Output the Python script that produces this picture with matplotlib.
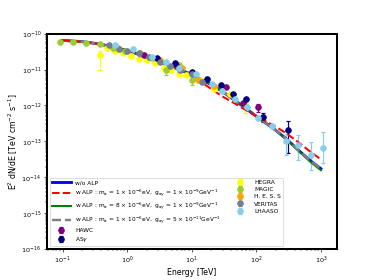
import numpy as np
import matplotlib.pyplot as plt

# model curves (energy in TeV, E^2 dN/dE in TeV cm^-2 s^-1)
e_model = [0.1, 0.2, 0.3, 0.5, 1, 2, 3, 5, 10, 15, 20, 30, 50, 100, 200, 300, 500, 700, 1000]
f_noalp = [6.46e-11, 5.96e-11, 5.43e-11, 4.62e-11, 3.39e-11, 2.24e-11, 1.70e-11, 1.17e-11,
           7.41e-12, 5.0e-12, 3.80e-12, 2.45e-12, 1.26e-12, 5.01e-13, 2.04e-13, 1.12e-13,
           4.79e-14, 2.82e-14, 1.74e-14]
f_alp1 = [6.46e-11, 5.96e-11, 5.43e-11, 4.62e-11, 3.39e-11, 2.24e-11, 1.70e-11, 1.17e-11,
          6.92e-12, 4.17e-12, 2.88e-12, 1.78e-12, 1.05e-12, 5.01e-13, 2.57e-13, 1.62e-13,
          8.13e-14, 5.01e-14, 3.16e-14]
f_alp2 = [6.46e-11, 5.96e-11, 5.43e-11, 4.62e-11, 3.39e-11, 2.24e-11, 1.70e-11, 1.17e-11,
          7.41e-12, 5.0e-12, 3.80e-12, 2.45e-12, 1.26e-12, 5.01e-13, 2.02e-13, 1.09e-13,
          4.57e-14, 2.63e-14, 1.58e-14]
f_alp3 = [6.46e-11, 5.96e-11, 5.43e-11, 4.62e-11, 3.39e-11, 2.24e-11, 1.70e-11, 1.17e-11,
          7.41e-12, 5.0e-12, 3.80e-12, 2.45e-12, 1.26e-12, 5.01e-13, 2.04e-13, 1.12e-13,
          4.79e-14, 2.82e-14, 1.74e-14]

# measurements
hegra_e = [0.378, 0.491, 0.659, 0.867, 1.153, 1.51, 2.04, 2.67, 3.68, 4.84, 6.28, 8.26, 13.6, 21.8, 38.5, 67.3]
hegra_f = [2.47e-11, 3.87e-11, 3.32e-11, 2.81e-11, 2.36e-11, 1.95e-11, 1.79e-11, 1.54e-11,
           1.11e-11, 9.4e-12, 7.6e-12, 6.85e-12, 5.07e-12, 2.79e-12, 2.03e-12, 1.09e-12]
hegra_lo = [1.47e-11, 1e-12, 1e-12, 1e-12, 1e-12, 8e-13, 8e-13, 6e-13, 5e-13, 4e-13, 3e-13, 3e-13,
            2e-13, 1.5e-13, 1.2e-13, 4.7e-13]
hegra_hi = [0.9e-11, 1e-12, 1e-12, 1e-12, 1e-12, 8e-13, 8e-13, 6e-13, 5e-13, 4e-13, 3e-13, 3e-13,
            2e-13, 1.5e-13, 1.2e-13, 1.5e-13]

magic_e = [0.091, 0.146, 0.235, 0.378, 0.608, 0.94, 1.61, 2.46, 4.0, 6.43, 10.2]
magic_f = [5.69e-11, 5.69e-11, 5.43e-11, 5.1e-11, 3.87e-11, 3.36e-11, 2.68e-11, 2.08e-11,
           9.6e-12, 1.33e-11, 5.2e-12]
magic_err = [1.5e-12, 1.5e-12, 1.2e-12, 1.2e-12, 1e-12, 1e-12, 8e-13, 8e-13, 2.6e-12, 1.5e-12, 1.6e-12]

hess_e = [0.735, 1.61, 3.27, 7.16, 12.6, 22.3]
hess_f = [4.07e-11, 2.96e-11, 1.89e-11, 1.09e-11, 5.07e-12, 3.45e-12]
hess_err = [1.5e-12, 1e-12, 8e-13, 6e-13, 4e-13, 3e-13]

veritas_e = [0.527, 0.741, 1.01, 1.51, 2.21, 3.19, 4.67, 6.67, 10.1, 14.4]
veritas_f = [4.94e-11, 3.70e-11, 3.36e-11, 2.81e-11, 2.22e-11, 1.61e-11, 1.29e-11, 9.9e-12,
             7.3e-12, 4.54e-12]
veritas_err = [1.5e-12, 1.2e-12, 1e-12, 8e-13, 7e-13, 6e-13, 5e-13, 4e-13, 3e-13, 2.5e-13]

lhaaso_e = [0.659, 1.24, 2.43, 4.01, 6.28, 11.6, 20.6, 29.4, 47.2, 71.6, 108, 178, 287, 440, 698, 1094]
lhaaso_f = [4.79e-11, 3.63e-11, 2.26e-11, 1.64e-11, 1.07e-11, 7.45e-12, 3.92e-12, 2.55e-12,
            1.50e-12, 9.15e-13, 4.52e-13, 2.65e-13, 1.03e-13, 8.1e-14, 4.26e-14, 6.76e-14]
lhaaso_lo = [1e-12, 8e-13, 6e-13, 5e-13, 3e-13, 2e-13, 1e-13, 8e-14, 5e-14, 3e-14, 2e-14, 2e-14,
             6.2e-14, 5.1e-14, 2.7e-14, 4.2e-14]
lhaaso_hi = [1e-12, 8e-13, 6e-13, 5e-13, 3e-13, 2e-13, 1e-13, 8e-14, 5e-14, 3e-14, 2e-14, 2e-14,
             5.6e-14, 6.8e-14, 5.4e-14, 1.16e-13]

hawc_e = [1.85, 5.78, 34.3, 62.1, 108]
hawc_f = [2.60e-11, 1.37e-11, 3.30e-12, 1.18e-12, 8.79e-13]
hawc_err = [8e-13, 5e-13, 1.5e-13, 8e-14, 2.1e-13]

asg_e = [2.91, 5.58, 10.1, 17.4, 28.2, 43.5, 69.0, 128, 308]
asg_f = [2.04e-11, 1.51e-11, 8.47e-12, 5.58e-12, 3.80e-12, 2.02e-12, 1.50e-12, 4.88e-13, 2.14e-13]
asg_err = [6e-13, 5e-13, 3e-13, 2e-13, 1.5e-13, 1e-13, 1.5e-13, 1.4e-13, 1.65e-13]

x_ticks = [0.1, 1, 10, 100, 1000]
y_ticks = [1e-16, 1e-15, 1e-14, 1e-13, 1e-12, 1e-11, 1e-10]

dpi = 374 / 6.4
fig, ax = plt.subplots(figsize=(6.4, 280 / dpi))
fig.subplots_adjust(left=0.125, right=0.9, bottom=0.11, top=0.88)

kw = dict(fmt='o', markersize=7, capsize=3, elinewidth=1.5, capthick=1.5)
h_hegra = ax.errorbar(hegra_e, hegra_f, yerr=[hegra_lo, hegra_hi], color='yellow', label='HEGRA', **kw)
h_magic = ax.errorbar(magic_e, magic_f, yerr=magic_err, color='yellowgreen', label='MAGIC', **kw)
h_hess = ax.errorbar(hess_e, hess_f, yerr=hess_err, color='orange', label='H. E. S. S', **kw)
h_hawc = ax.errorbar(hawc_e, hawc_f, yerr=hawc_err, color='purple', label='HAWC', **kw)
h_asg = ax.errorbar(asg_e, asg_f, yerr=asg_err, color='navy', label=r'AS$\gamma$', **kw)
h_ver = ax.errorbar(veritas_e, veritas_f, yerr=veritas_err, color='slategray', label='VERITAS', **kw)
h_lha = ax.errorbar(lhaaso_e, lhaaso_f, yerr=[lhaaso_lo, lhaaso_hi], color='skyblue', label='LHAASO', **kw)

l0, = ax.plot(e_model, f_noalp, color='blue', lw=3.5, label='w/o ALP')
l2, = ax.plot(e_model, f_alp2, color='green', lw=2.5,
              label=r'w ALP : m$_a$ = 8 $\times$ 10$^{-6}$eV,  g$_{a\gamma}$ = 1 $\times$ 10$^{-9}$GeV$^{-1}$')
l3, = ax.plot(e_model, f_alp3, color='gray', lw=3, ls='--',
              label=r'w ALP : m$_a$ = 1 $\times$ 10$^{-6}$eV,  g$_{a\gamma}$ = 5 $\times$ 10$^{-11}$GeV$^{-1}$')
l1, = ax.plot(e_model, f_alp1, color='red', lw=2.5, ls='--',
              label=r'w ALP : m$_a$ = 1 $\times$ 10$^{-6}$eV,  g$_{a\gamma}$ = 1 $\times$ 10$^{-9}$GeV$^{-1}$')

ax.set_xscale('log')
ax.set_yscale('log')
ax.set_xticks(x_ticks)
ax.set_yticks(y_ticks)
ax.set_xlim(0.057, 1750)
ax.set_ylim(1e-16, 1e-10)
ax.set_xlabel('Energy [TeV]', fontsize=9.5, labelpad=2)
ax.set_ylabel(r'E$^2$ dN/dE [TeV cm$^{-2}$ s$^{-1}$]', fontsize=9.5, labelpad=2)
ax.tick_params(labelsize=8)
for s in ax.spines.values():
    s.set_linewidth(2.5)

handles = [l0, l1, l2, l3, h_hawc, h_asg, h_hegra, h_magic, h_hess, h_ver, h_lha]
ax.legend(handles=handles, loc='lower left', ncol=2, fontsize=7.2, columnspacing=1.6,
          handlelength=3.2, labelspacing=0.35)

plt.savefig('out.png', dpi=dpi)
